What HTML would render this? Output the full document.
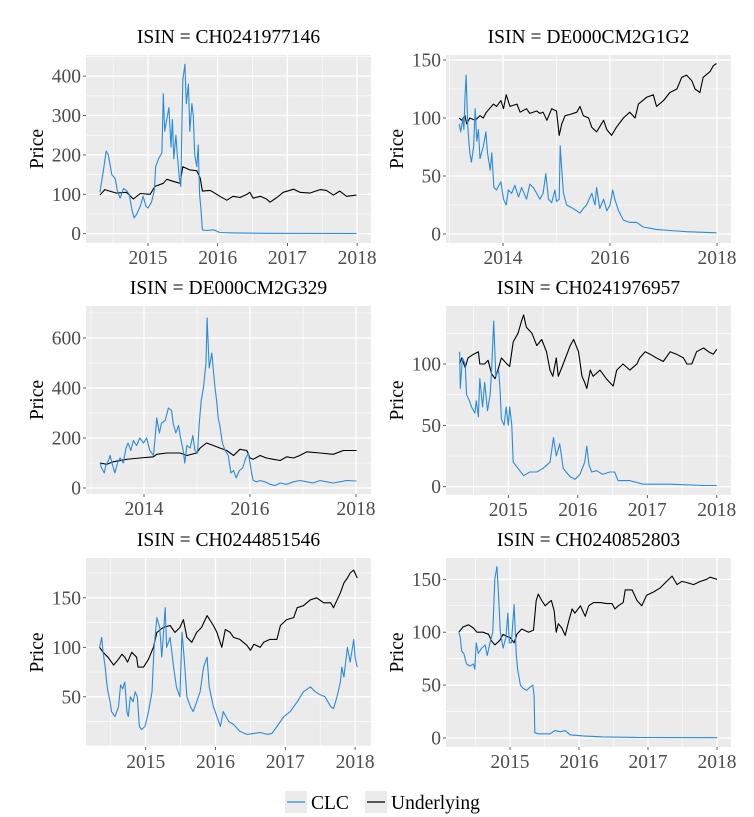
<!DOCTYPE html>
<html><head><meta charset="utf-8"><style>
body{margin:0;background:#fff;}
svg{display:block;font-family:"Liberation Serif",serif;}
</style></head><body>
<svg id="chart" width="754" height="817" viewBox="0 0 754 817"></svg>
<script>
// ---------- DATA ----------
const panelTitles = ["ISIN = CH0241977146","ISIN = DE000CM2G1G2","ISIN = DE000CM2G329","ISIN = CH0241976957","ISIN = CH0244851546","ISIN = CH0240852803"];
const yTicks = [[0,100,200,300,400],[0,50,100,150],[0,200,400,600],[0,50,100],[50,100,150],[0,50,100,150]];
const xTicks = [[2015,2016,2017,2018],[2014,2016,2018],[2014,2016,2018],[2015,2016,2017,2018],[2015,2016,2017,2018],[2015,2016,2017,2018]];
const legendLabels = ["CLC","Underlying"];

const clcT1 = [2014.31,2014.36,2014.40,2014.43,2014.48,2014.53,2014.56,2014.60,2014.65,2014.69,2014.73,2014.77,2014.80,2014.84,2014.89,2014.93,2014.97,2015.00,2015.05,2015.09,2015.11,2015.15,2015.20,2015.22,2015.24,2015.28,2015.30,2015.33,2015.35,2015.37,2015.40,2015.42,2015.45,2015.47,2015.50,2015.53,2015.55,2015.58,2015.60,2015.63,2015.65,2015.67,2015.70,2015.72,2015.74,2015.76,2015.78,2015.84,2015.94,2016.03,2016.22,2016.70,2017.99];
const clcV1 = [105,160,210,200,150,140,110,90,115,110,100,60,40,50,70,95,70,65,80,110,170,190,205,355,260,300,320,220,290,190,250,200,140,120,390,430,330,380,260,330,300,200,170,225,100,60,10,8,10,3,2,1,0.5];
const undT1 = [2014.31,2014.38,2014.45,2014.55,2014.69,2014.79,2014.89,2015.03,2015.10,2015.22,2015.27,2015.36,2015.46,2015.50,2015.60,2015.70,2015.75,2015.78,2015.89,2015.94,2016.03,2016.13,2016.22,2016.32,2016.42,2016.46,2016.51,2016.61,2016.70,2016.75,2016.85,2016.94,2017.09,2017.18,2017.32,2017.47,2017.56,2017.66,2017.75,2017.85,2017.99];
const undV1 = [98,112,108,103,105,88,102,100,120,128,138,133,128,170,162,160,140,108,110,105,95,85,95,92,100,105,90,95,88,80,92,105,113,105,103,112,110,98,108,95,98];

const clcT2 = [2013.18,2013.21,2013.25,2013.27,2013.29,2013.31,2013.34,2013.36,2013.38,2013.41,2013.45,2013.48,2013.51,2013.54,2013.57,2013.63,2013.68,2013.71,2013.76,2013.79,2013.83,2013.88,2013.96,2014.01,2014.06,2014.10,2014.16,2014.22,2014.29,2014.35,2014.44,2014.50,2014.57,2014.63,2014.69,2014.75,2014.80,2014.85,2014.91,2014.97,2015.00,2015.05,2015.07,2015.10,2015.13,2015.19,2015.31,2015.44,2015.50,2015.56,2015.66,2015.72,2015.75,2015.81,2015.88,2015.94,2016.00,2016.05,2016.09,2016.16,2016.25,2016.37,2016.50,2016.62,2016.87,2017.12,2017.43,2017.74,2017.99];
const clcV2 = [95,88,100,90,118,137,95,80,70,62,75,108,80,90,65,75,88,70,55,70,40,38,45,30,25,38,35,42,32,40,30,43,40,35,30,35,52,30,27,38,28,30,76,55,35,25,22,18,22,25,35,25,40,22,30,20,25,38,30,20,12,10,10,6,4,3,2,1.5,1];
const undT2 = [2013.18,2013.23,2013.29,2013.32,2013.38,2013.48,2013.57,2013.63,2013.69,2013.82,2013.88,2013.96,2014.01,2014.06,2014.13,2014.26,2014.32,2014.44,2014.50,2014.63,2014.69,2014.75,2014.82,2014.91,2015.00,2015.05,2015.10,2015.16,2015.25,2015.38,2015.44,2015.50,2015.60,2015.66,2015.75,2015.88,2015.94,2016.03,2016.12,2016.25,2016.37,2016.47,2016.53,2016.69,2016.81,2016.87,2017.00,2017.12,2017.25,2017.34,2017.43,2017.53,2017.59,2017.68,2017.74,2017.87,2017.93,2017.99];
const undV2 = [100,98,102,95,100,98,102,100,105,112,110,115,108,120,110,112,105,108,104,106,104,105,98,108,106,85,95,102,103,105,110,102,100,92,88,98,90,85,92,100,105,100,112,118,120,110,115,122,125,135,137,132,125,122,135,140,145,147];

const clcT3 = [2013.17,2013.20,2013.25,2013.28,2013.33,2013.36,2013.41,2013.45,2013.50,2013.55,2013.61,2013.66,2013.70,2013.75,2013.80,2013.86,2013.92,2013.99,2014.05,2014.11,2014.18,2014.21,2014.24,2014.29,2014.33,2014.40,2014.46,2014.52,2014.55,2014.60,2014.65,2014.69,2014.74,2014.77,2014.81,2014.87,2014.92,2014.96,2015.01,2015.04,2015.08,2015.12,2015.17,2015.19,2015.23,2015.28,2015.34,2015.37,2015.40,2015.43,2015.48,2015.53,2015.59,2015.64,2015.69,2015.74,2015.80,2015.86,2015.92,2015.97,2016.00,2016.03,2016.06,2016.13,2016.19,2016.28,2016.38,2016.47,2016.57,2016.69,2016.82,2016.94,2017.07,2017.19,2017.32,2017.45,2017.57,2017.70,2017.82,2018.01];
const clcV3 = [100,80,60,90,110,130,90,60,100,120,100,160,180,150,190,170,200,180,200,150,130,200,280,220,260,270,320,310,260,220,250,200,150,100,170,160,210,150,140,250,350,400,500,680,480,540,400,350,280,250,180,150,130,60,70,40,70,80,120,140,100,60,30,25,30,25,15,10,20,15,25,30,25,20,30,25,20,25,30,28];
const undT3 = [2013.17,2013.30,2013.42,2013.67,2013.92,2014.18,2014.24,2014.43,2014.68,2014.81,2014.99,2015.06,2015.18,2015.31,2015.43,2015.56,2015.69,2015.81,2015.94,2016.00,2016.06,2016.19,2016.31,2016.44,2016.57,2016.69,2016.82,2016.94,2017.07,2017.32,2017.57,2017.76,2018.01];
const undV3 = [100,95,105,115,120,125,135,140,140,130,140,160,180,170,160,150,130,155,150,120,115,130,120,115,110,125,120,130,145,140,135,150,150];

const clcT4 = [2014.30,2014.31,2014.34,2014.38,2014.40,2014.44,2014.47,2014.52,2014.54,2014.57,2014.59,2014.63,2014.66,2014.70,2014.74,2014.76,2014.79,2014.82,2014.86,2014.88,2014.90,2014.94,2014.97,2015.00,2015.02,2015.05,2015.07,2015.14,2015.22,2015.31,2015.41,2015.50,2015.60,2015.65,2015.69,2015.74,2015.79,2015.89,2015.96,2016.03,2016.10,2016.13,2016.16,2016.20,2016.27,2016.36,2016.46,2016.53,2016.58,2016.75,2016.94,2017.33,2017.81,2018.00];
const clcV4 = [110,80,105,100,75,70,65,60,70,57,88,65,85,62,75,95,135,90,95,80,55,50,65,50,65,50,20,15,9,12,12,15,20,40,25,35,15,8,6,10,20,33,18,12,13,10,12,12,5,5,2,2,1,1];
const undT4 = [2014.30,2014.33,2014.38,2014.42,2014.50,2014.57,2014.59,2014.66,2014.71,2014.76,2014.81,2014.86,2014.90,2014.98,2015.02,2015.07,2015.14,2015.19,2015.22,2015.26,2015.34,2015.41,2015.48,2015.55,2015.60,2015.64,2015.69,2015.72,2015.79,2015.89,2015.94,2016.01,2016.06,2016.10,2016.13,2016.18,2016.22,2016.32,2016.41,2016.51,2016.56,2016.65,2016.75,2016.85,2016.89,2016.97,2017.04,2017.13,2017.23,2017.33,2017.42,2017.52,2017.57,2017.64,2017.71,2017.81,2017.88,2017.95,2018.00];
const undV4 = [100,105,97,105,108,110,100,100,103,92,88,97,105,100,98,118,125,135,140,130,125,115,120,110,95,90,105,90,100,115,120,110,90,85,80,95,90,95,88,82,95,100,95,100,105,110,108,105,102,110,108,105,100,100,110,113,110,108,112];

const clcT5 = [2014.34,2014.37,2014.39,2014.42,2014.44,2014.46,2014.49,2014.51,2014.56,2014.61,2014.64,2014.67,2014.70,2014.73,2014.75,2014.78,2014.82,2014.85,2014.88,2014.91,2014.94,2014.99,2015.04,2015.09,2015.12,2015.16,2015.20,2015.23,2015.28,2015.30,2015.35,2015.40,2015.44,2015.49,2015.52,2015.55,2015.59,2015.64,2015.68,2015.73,2015.78,2015.83,2015.88,2015.91,2015.97,2016.02,2016.07,2016.11,2016.19,2016.26,2016.35,2016.45,2016.55,2016.64,2016.74,2016.81,2016.88,2016.98,2017.07,2017.17,2017.26,2017.36,2017.43,2017.50,2017.57,2017.65,2017.69,2017.74,2017.79,2017.81,2017.84,2017.89,2017.93,2017.98,2018.00,2018.03];
const clcV5 = [100,110,95,80,65,55,45,35,30,40,62,58,65,35,30,50,45,55,50,20,17,20,35,55,100,130,120,90,140,100,110,80,60,50,115,90,50,40,35,45,55,80,90,60,40,30,20,35,25,22,15,12,13,14,12,13,20,30,35,45,55,60,55,52,50,40,38,50,65,80,70,100,85,108,90,80];
const undT5 = [2014.34,2014.39,2014.46,2014.54,2014.61,2014.66,2014.70,2014.74,2014.80,2014.87,2014.89,2014.97,2015.04,2015.11,2015.16,2015.25,2015.35,2015.42,2015.49,2015.54,2015.59,2015.66,2015.73,2015.80,2015.88,2015.97,2016.02,2016.09,2016.14,2016.21,2016.26,2016.35,2016.45,2016.50,2016.55,2016.64,2016.69,2016.78,2016.88,2016.93,2017.02,2017.12,2017.17,2017.26,2017.36,2017.45,2017.55,2017.65,2017.69,2017.79,2017.84,2017.89,2017.93,2017.98,2018.03];
const undV5 = [100,95,90,82,88,93,90,85,95,90,80,80,88,100,115,120,122,115,120,128,110,105,115,120,132,122,115,100,118,115,110,108,102,97,103,100,105,108,108,122,128,130,140,142,148,150,145,145,140,155,165,170,175,178,170];

const clcT6 = [2014.26,2014.28,2014.30,2014.33,2014.37,2014.42,2014.47,2014.49,2014.51,2014.54,2014.59,2014.64,2014.67,2014.71,2014.75,2014.78,2014.81,2014.83,2014.86,2014.90,2014.94,2014.97,2014.99,2015.02,2015.06,2015.09,2015.11,2015.15,2015.19,2015.24,2015.29,2015.33,2015.35,2015.36,2015.41,2015.48,2015.58,2015.65,2015.73,2015.80,2015.87,2016.06,2016.35,2016.84,2018.00];
const clcV6 = [100,95,82,80,70,68,70,65,90,80,85,88,78,90,100,150,162,140,100,85,95,118,90,90,126,80,65,50,47,45,48,50,40,5,4,4,4,7,6,7,3,2,1,0.5,0.3];
const undT6 = [2014.26,2014.32,2014.40,2014.47,2014.52,2014.61,2014.69,2014.73,2014.78,2014.85,2014.90,2014.95,2015.00,2015.06,2015.10,2015.17,2015.27,2015.34,2015.38,2015.41,2015.46,2015.51,2015.56,2015.60,2015.64,2015.67,2015.70,2015.75,2015.80,2015.85,2015.90,2015.94,2016.02,2016.09,2016.14,2016.21,2016.31,2016.40,2016.48,2016.52,2016.57,2016.64,2016.67,2016.77,2016.84,2016.91,2016.98,2017.08,2017.18,2017.27,2017.35,2017.42,2017.49,2017.56,2017.66,2017.76,2017.85,2017.90,2018.00];
const undV6 = [100,105,107,104,100,100,98,92,88,92,98,96,95,90,98,103,100,102,130,136,130,125,128,130,120,100,108,104,97,110,122,118,125,115,125,128,128,127,127,122,125,128,140,140,130,125,135,138,142,148,153,145,148,147,145,148,150,152,150];

const clcTimes = [clcT1,clcT2,clcT3,clcT4,clcT5,clcT6];
const clcVals = [clcV1,clcV2,clcV3,clcV4,clcV5,clcV6];
const undTimes = [undT1,undT2,undT3,undT4,undT5,undT6];
const undVals = [undV1,undV2,undV3,undV4,undV5,undV6];

// ---------- LAYOUT (pixel geometry, not data) ----------
const layout = [
 {l:86,t:55,w:285,h:188, xa:2015,xp:148,xk:69.7, ya:0,yp:233.7,yk:0.394, ys:100, xs:1, lx:37},
 {l:446,t:55,w:285,h:188, xa:2014,xp:503,xk:53.5, ya:0,yp:234,yk:1.16, ys:50, xs:2, lx:397},
 {l:86,t:306,w:285,h:188, xa:2014,xp:144,xk:53, ya:0,yp:488,yk:0.25, ys:200, xs:2, lx:37},
 {l:446,t:306,w:285,h:189, xa:2015,xp:508.3,xk:69.5, ya:0,yp:486.7,yk:1.227, ys:50, xs:1, lx:397},
 {l:86,t:558,w:285,h:189, xa:2015,xp:145.7,xk:69.8, ya:100,yp:647.3,yk:0.99, ys:50, xs:1, lx:37},
 {l:446,t:558,w:285,h:189, xa:2015,xp:510,xk:69, ya:0,yp:738,yk:1.058, ys:50, xs:1, lx:397}
];
const FS=19.5;
const NS="http://www.w3.org/2000/svg";
const svg=document.getElementById('chart');
function mk(tag,attrs,parent){const e=document.createElementNS(NS,tag);for(const k in attrs)e.setAttribute(k,attrs[k]);(parent||svg).appendChild(e);return e;}

layout.forEach((L,i)=>{
  const g=mk('g',{});
  
  
  const X=t=>L.xp+(t-L.xa)*L.xk;
  const Y=v=>L.yp-(v-L.ya)*L.yk;
  const Xinv=x=>L.xa+(x-L.xp)/L.xk;
  const Yinv=y=>L.ya+(L.yp-y)/L.yk;
  const bg=mk('rect',{x:L.l,y:L.t,width:L.w,height:L.h,fill:'#EBEBEB'},g);
  
  
  const vmin=Yinv(L.t+L.h), vmax=Yinv(L.t);
  for(let v=Math.floor(vmin/L.ys)*L.ys - L.ys/2; v<=vmax; v+=L.ys){
    if(v>=vmin){const y=Y(v);mk('line',{x1:L.l,x2:L.l+L.w,y1:y,y2:y,stroke:'#fff','stroke-width':0.6},g);}
    const vm=v+L.ys/2; if(vm>=vmin&&vm<=vmax){const y=Y(vm);mk('line',{x1:L.l,x2:L.l+L.w,y1:y,y2:y,stroke:'#fff','stroke-width':1.3},g);}
  }
  const tmin=Xinv(L.l), tmax=Xinv(L.l+L.w);
  for(let t=Math.floor(tmin)-L.xs/2; t<=tmax; t+=L.xs){
    if(t>=tmin){const x=X(t);mk('line',{x1:x,x2:x,y1:L.t,y2:L.t+L.h,stroke:'#fff','stroke-width':0.6},g);}
  }
  xTicks[i].forEach(t=>{const x=X(t);mk('line',{x1:x,x2:x,y1:L.t,y2:L.t+L.h,stroke:'#fff','stroke-width':1.3},g);
    mk('line',{x1:x,x2:x,y1:L.t+L.h,y2:L.t+L.h+3,stroke:'#333','stroke-width':0.8},g);
    const tx=mk('text',{x:x,y:L.t+L.h+21,'text-anchor':'middle','font-size':FS,fill:'#4D4D4D'},g);tx.textContent=t;
    
    
  });
  yTicks[i].forEach(v=>{const y=Y(v);
    mk('line',{x1:L.l-3,x2:L.l,y1:y,y2:y,stroke:'#333','stroke-width':0.8},g);
    const tx=mk('text',{x:L.l-5,y:y+6.5,'text-anchor':'end','font-size':FS,fill:'#4D4D4D'},g);tx.textContent=v;
    
    
  });
  const title=mk('text',{x:L.l+L.w/2,y:L.t-12,'text-anchor':'middle','font-size':FS,fill:'#000'},g);
  title.textContent=panelTitles[i];
  
  
  const yl=mk('text',{x:L.lx+6,y:L.t+L.h/2,'text-anchor':'middle','font-size':FS,fill:'#000',transform:`rotate(-90 ${L.lx+6} ${L.t+L.h/2})`},g);
  yl.textContent='Price';
  
  
  const pts=(T,V)=>T.map((t,j)=>X(t).toFixed(1)+','+Y(V[j]).toFixed(1)).join(' ');
  const u=mk('polyline',{points:pts(undTimes[i],undVals[i]),fill:'none',stroke:'#000','stroke-width':1.1,'stroke-linejoin':'round'},g);
  
  
  const c=mk('polyline',{points:pts(clcTimes[i],clcVals[i]),fill:'none',stroke:'#2A8BDB','stroke-width':1.1,'stroke-linejoin':'round'},g);
  
  
});

const lg=mk('g',{});


const keyX=[285,365], colors=['#2A8BDB','#000'];
legendLabels.forEach((lab,k)=>{
  const e=mk('g',{},lg);
  
  
  mk('rect',{x:keyX[k],y:791,width:22,height:22,fill:'#EBEBEB'},e);
  mk('line',{x1:keyX[k]+2,x2:keyX[k]+20,y1:802,y2:802,stroke:colors[k],'stroke-width':1.3},e);
  const t=mk('text',{x:keyX[k]+26,y:809,'font-size':FS,fill:'#000'},e);t.textContent=lab;
});
</script>
</body></html>
